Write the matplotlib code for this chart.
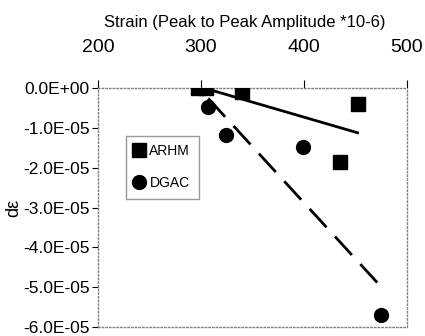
import numpy as np
import matplotlib
matplotlib.use("Agg")
import matplotlib.pyplot as plt
from matplotlib.ticker import FuncFormatter

plt.rcParams['font.family'] = ['Liberation Sans', 'DejaVu Sans']

# data
arhm_strain = [297, 305, 340, 435, 452]
arhm_slope = [0.0, 0.0, -1.0e-6, -1.86e-5, -4.0e-6]
dgac_strain = [307, 324, 399, 475]
dgac_slope = [-4.8e-6, -1.18e-5, -1.48e-5, -5.7e-5]

x_ticks = [200, 300, 400, 500]
y_ticks = [0, -1e-5, -2e-5, -3e-5, -4e-5, -5e-5, -6e-5]


def sci_label(v, pos):
    if v == 0:
        return "0.0E+00"
    return f"{v:.1E}"


fig = plt.figure(figsize=(4.25, 3.36), dpi=100)
ax = fig.add_axes([0.2306, 0.0268, 0.727, 0.711])

ax.plot(arhm_strain, arhm_slope, "s", color="black", markersize=10, label="ARHM", zorder=3)
ax.plot(dgac_strain, dgac_slope, "o", color="black", markersize=10, label="DGAC", zorder=3)

# linear trendlines
for xs, ys, ls in [(arhm_strain, arhm_slope, "-"), (dgac_strain, dgac_slope, (0, (9, 4.5)))]:
    k, b = np.polyfit(xs, ys, 1)
    xx = np.array([min(xs), max(xs)])
    ax.plot(xx, k * xx + b, color="black", linestyle=ls, linewidth=2, zorder=2)

ax.set_xlim(200, 500)
ax.set_ylim(-6e-5, 0)
ax.set_xticks(x_ticks)
ax.set_yticks(y_ticks)
ax.yaxis.set_major_formatter(FuncFormatter(sci_label))
ax.xaxis.tick_top()
ax.xaxis.set_label_position("top")
ax.tick_params(axis="x", direction="out", length=6, labelsize=14, pad=17)
ax.tick_params(axis="y", direction="out", length=4, labelsize=12.5, pad=2)
ax.set_xlabel("Strain (Peak to Peak Amplitude *10-6)", fontsize=12)
ax.xaxis.set_label_coords(0.475, 1.245)
ax.xaxis.label.set_verticalalignment("bottom")
ax.set_ylabel("dε", fontsize=13)
ax.yaxis.set_label_coords(-0.245, 0.5)

for s in ax.spines.values():
    s.set_color("gray")
    s.set_linestyle(":")
    s.set_linewidth(1)

leg = ax.legend(loc="upper left", bbox_to_anchor=(0.09, 0.80), frameon=True,
                fancybox=False, edgecolor="gray", fontsize=10, handlelength=0.7,
                handletextpad=0.4, borderpad=0.6, labelspacing=1.3, borderaxespad=0)
leg.get_frame().set_linewidth(1)

fig.savefig("out.png", dpi=100)
